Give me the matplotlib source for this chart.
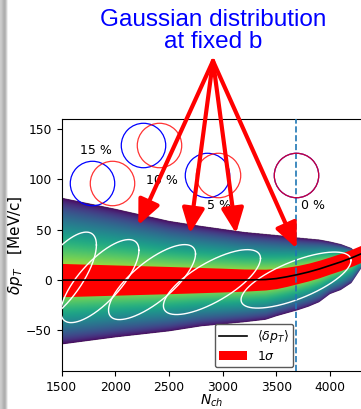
#!/usr/bin/env python3
"""Density of delta p_T versus N_ch, with Gaussians at fixed b."""

import matplotlib

matplotlib.use("Agg")

import matplotlib.pyplot as plt
import numpy as np

# edges of the density band, mean and 1 sigma of delta p_T
nch = np.array([1500, 2000, 2500, 2800, 3000, 3200, 3400, 3500, 3600, 3700, 3800, 3900, 4000, 4100, 4200, 4300])
upper = np.array([82, 71, 59, 54, 51, 48, 46, 45, 43.8, 42.5, 41.5, 40.5, 38.5, 36, 32, 21])
lower = np.array([-64, -57, -51, -46, -44, -42, -39.5, -36, -33, -30, -26.5, -22, -14, -10, -3, 13])
mean = np.array([0, 0, 0, 0, 0, 0, 0.5, 1.5, 3.3, 5.5, 8, 11, 14.5, 18, 22, 26.5])
sigma = np.array([16.5, 15, 13.5, 12.5, 11.8, 11, 10.3, 10, 9.5, 9, 8.8, 8.7, 8.5, 8.5, 8.5, 8.5])

# 2D gaussians at fixed b: centre, widths and correlation
ell_nch = [1490, 1858, 2343, 2901, 3684]
ell_dpt = [2, -1, -2, -2, 0]
ell_snch = [335, 363, 405, 452, 512]
ell_sdpt = [45.6, 41.2, 37.2, 32.2, 27.8]
ell_rho = [0.72, 0.74, 0.75, 0.73, 0.70]

# centrality circles
cent_labels = ["15 %", "10 %", "5 %", "0 %"]
circ_nch_blue = [1786, 2257, 2857, 3685]
circ_nch_red = [1968, 2406, 2957, 3685]
circ_dpt = [96.4, 134.4, 104.6, 104.3]
label_nch = [1824, 2433, 2969, 3845]
label_dpt = [128.9, 99.2, 73.7, 73.7]

# where the red arrows point
arrow_nch = [2215, 2696, 3125, 3690]
arrow_dpt = [54.5, 46.3, 46.3, 31.4]

nch_fixed_b = 3680
xlim = (1500, 4300)
ylim = (-90, 160)


def density_image(ax):
    ng = np.linspace(xlim[0], xlim[1], 800)
    dg = np.linspace(ylim[0], ylim[1], 700)
    up = np.interp(ng, nch, upper)
    lo = np.interp(ng, nch, lower)
    centre = np.clip(np.interp(ng, nch, mean), lo + 1, up - 1)
    d = dg[:, None]
    frac = np.where(d >= centre, (d - centre) / (up - centre), (centre - d) / (centre - lo))
    values = np.clip(1 - frac, 0, 1) ** 0.74
    values = np.ma.masked_where(frac > 1, values)
    image = ax.imshow(
        values,
        extent=[xlim[0], xlim[1], ylim[0], ylim[1]],
        origin="lower",
        aspect="auto",
        cmap="viridis",
        vmin=0,
        vmax=1,
        interpolation="bilinear",
        zorder=1,
    )
    outline = ax.fill_between(nch, lower, upper, facecolor="none", edgecolor="none")
    image.set_clip_path(outline.get_paths()[0], transform=ax.transData)


def main():
    fig = plt.figure(figsize=(3.61, 4.09), dpi=100)

    # grey slide shadow on the left edge, kept behind everything
    shade = fig.add_axes([0, 0, 9 / 361, 1], zorder=-1)
    grey = np.array([0.80, 0.78, 0.74, 0.70, 0.68, 0.72, 0.82, 0.93, 1.0])
    shade.imshow(grey[None, :], cmap="gray", vmin=0, vmax=1, aspect="auto")
    shade.axis("off")

    ax = fig.add_axes([61.5 / 361, 38.2 / 409, 300.7 / 361, 252 / 409])

    density_image(ax)
    band = ax.fill_between(nch, mean - sigma, mean + sigma, color="red", lw=0, zorder=2, label=r"$1\sigma$")
    (line,) = ax.plot(nch, mean, color="black", lw=1.2, zorder=4, label=r"$\langle\delta p_T\rangle$")

    t = np.linspace(0, 2 * np.pi, 300)
    for cn, cd, sn, sd, rho in zip(ell_nch, ell_dpt, ell_snch, ell_sdpt, ell_rho):
        x = cn + sn * np.cos(t)
        y = cd + sd * (rho * np.cos(t) + np.sqrt(1 - rho**2) * np.sin(t))
        ax.plot(x, y, color="white", lw=1.0, zorder=3)

    ax.axvline(nch_fixed_b, color="tab:blue", ls="--", lw=1.2, zorder=5)

    ax.plot(circ_nch_blue, circ_dpt, "o", ms=32, mfc="none", mec="blue", mew=0.9, zorder=5)
    ax.plot(circ_nch_red, circ_dpt, "o", ms=32, mfc="none", mec=(1, 0, 0, 0.8), mew=0.9, zorder=5)
    for n, d, lab in zip(label_nch, label_dpt, cent_labels):
        ax.text(n, d, lab, ha="center", va="center", fontsize=9, zorder=6)

    for n, d in zip(arrow_nch, arrow_dpt):
        ax.annotate(
            "",
            xy=(n, d),
            xycoords="data",
            xytext=(0.59, 0.851),
            textcoords="figure fraction",
            arrowprops=dict(
                arrowstyle="-|>,head_length=1.0,head_width=0.45",
                color="red",
                lw=3,
                mutation_scale=15,
                shrinkA=0,
                shrinkB=0,
            ),
            annotation_clip=False,
            zorder=7,
        )

    fig.text(
        0.59,
        1 - 31 / 409,
        "Gaussian distribution\nat fixed b",
        ha="center",
        va="center",
        color="blue",
        fontsize=17.5,
        family="Liberation Sans",
        linespacing=0.95,
    )

    ax.set_xlim(*xlim)
    ax.set_ylim(*ylim)
    ax.tick_params(labelsize=8.8)
    ax.set_xlabel(r"$N_{ch}$", fontsize=10, labelpad=-0.5)
    ax.set_ylabel(r"$\delta p_T$   [MeV/c]", fontsize=11, labelpad=1)
    ax.legend(
        handles=[line, band],
        loc="lower right",
        bbox_to_anchor=(0.77, 0.015),
        borderaxespad=0,
        fontsize=9,
        handlelength=2.2,
        labelspacing=0.35,
        borderpad=0.35,
        edgecolor="0.35",
        framealpha=1,
    )

    fig.savefig("out.png", dpi=100)
    plt.close(fig)


if __name__ == "__main__":
    main()
